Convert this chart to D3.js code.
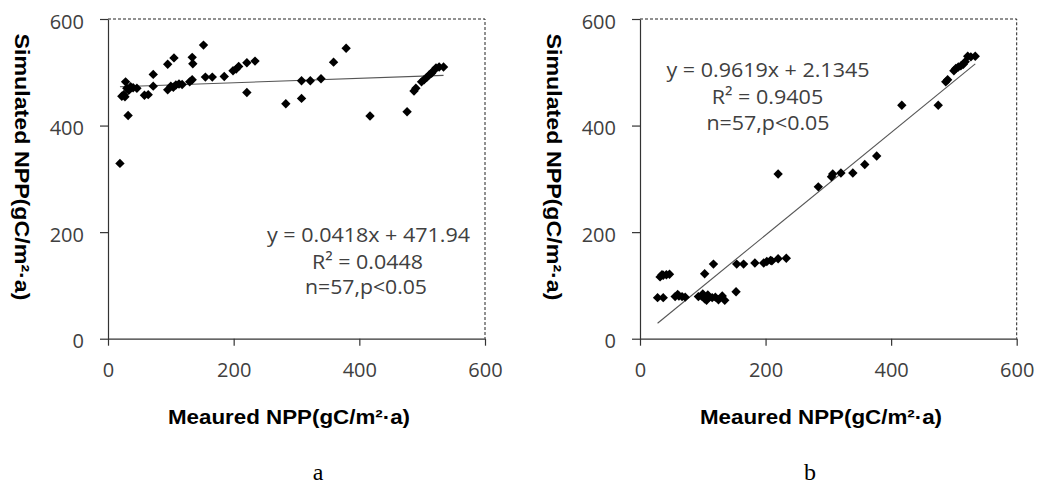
<!DOCTYPE html>
<html><head><meta charset="utf-8">
<script src="https://cdnjs.cloudflare.com/ajax/libs/d3/7.8.5/d3.min.js"></script>
<style>
html,body{margin:0;padding:0;background:#fff;}
svg{display:block;}
</style></head>
<body>
<svg id="chart" width="1038" height="486"></svg>
<script>
// ---- data ----
const xTicks = [0, 200, 400, 600];
const yTicks = [0, 200, 400, 600];

const measuredA = [19, 32, 22, 25, 27, 28, 30, 33, 36, 40, 46, 58, 64, 72, 72, 95, 105, 95, 100, 104, 108, 113, 118, 134, 135, 134, 152, 155, 166, 185, 199, 204, 208, 221, 234, 221, 283, 308, 308, 322, 339, 359, 379, 417, 476, 487, 490, 499, 503, 507, 511, 515, 518, 522, 527, 534, 130];
const simulatedA = [329, 419, 455, 458, 454, 482, 470, 466, 473, 471, 470, 457, 458, 496, 474, 515, 527, 467, 474, 472, 476, 478, 477, 528, 516, 486, 551, 491, 491, 492, 503, 506, 511, 518, 521, 462, 441, 484, 451, 484, 488, 519, 545, 418, 426, 465, 470, 482, 486, 490, 495, 498, 503, 508, 510, 510, 482];

const measuredB = [28, 37, 56, 62, 67, 72, 93, 98, 103, 106, 110, 115, 120, 131, 135, 153, 32, 37, 42, 47, 103, 117, 154, 165, 183, 197, 202, 208, 220, 233, 220, 284, 305, 307, 320, 339, 358, 377, 417, 475, 487, 490, 500, 503, 507, 511, 515, 518, 522, 527, 534, 100, 125, 60, 108, 35, 210];
const simulatedB = [77, 77, 79, 80, 79, 78, 79, 80, 75, 72, 78, 77, 78, 80, 72, 88, 116, 119, 120, 121, 122, 140, 140, 140, 142, 142, 145, 147, 150, 151, 309, 285, 304, 309, 311, 311, 327, 343, 438, 438, 482, 486, 503, 507, 510, 512, 515, 520, 530, 529, 530, 84, 73, 83, 82, 120, 146];

const fitA = { slope: 0.0418, intercept: 471.94 };
const fitB = { slope: 0.9619, intercept: 2.1345 };
const eqTextA = ["y = 0.0418x + 471.94", "R² = 0.0448", "n=57,p<0.05"];
const eqTextB = ["y = 0.9619x + 2.1345", "R² = 0.9405", "n=57,p<0.05"];
const xTitle = "Meaured NPP(gC/m²·a)";
const yTitle = "Simulated NPP(gC/m²·a)";
const panelLetters = ["a", "b"];

// ---- drawing ----
const svg = d3.select("#chart");
const tickFont = "'Open Sans', 'DejaVu Sans', sans-serif";

const panels = [
  { xs: measuredA, ys: simulatedA, fit: fitA, eq: eqTextA, letter: panelLetters[0],
    x0: 108, x1: 485, y0: 338.7, y1: 19,
    eqCx: [368.5, 367.5, 366], eqW: [203, 111, 122], eqY: [242, 269, 294],
    yTitleX: 22, xTitleX: 289, letterX: 318 },
  { xs: measuredB, ys: simulatedB, fit: fitB, eq: eqTextB, letter: panelLetters[1],
    x0: 640, x1: 1016.7, y0: 338.7, y1: 19,
    eqCx: [768, 767.5, 768], eqW: [203, 111.5, 123], eqY: [76.5, 104, 130],
    yTitleX: 554, xTitleX: 821, letterX: 810 }
];

panels.forEach(p => {
  const x = d3.scaleLinear().domain([0, 600]).range([p.x0, p.x1]);
  const y = d3.scaleLinear().domain([0, 600]).range([p.y0, p.y1]);
  const g = svg.append("g");

  // dashed frame (top & right)
  g.append("path")
    .attr("d", `M${x(0)},${y(600)}H${x(600)}V${y(0)}`)
    .attr("fill", "none").attr("stroke", "#222").attr("stroke-width", 1)
    .attr("stroke-dasharray", "3,2");

  // axes
  const ax = g.append("g").attr("transform", `translate(0,${y(0)})`)
    .call(d3.axisBottom(x).tickValues(xTicks).tickSize(7).tickSizeOuter(0).tickPadding(14));
  const ay = g.append("g").attr("transform", `translate(${x(0)},0)`)
    .call(d3.axisLeft(y).tickValues(yTicks).tickSize(8).tickSizeOuter(0).tickPadding(16));
  [ax, ay].forEach(a => {
    a.select(".domain").attr("stroke", "#333").attr("stroke-width", 1.2);
    a.selectAll(".tick line").attr("stroke", "#333").attr("stroke-width", 1.2);
    a.selectAll(".tick text").attr("fill", "#404040")
      .style("font-family", tickFont).style("font-size", "20px");
  });
  ax.selectAll(".tick text").attr("dy", "0.85em");
  ay.selectAll(".tick text").attr("dy", "0.45em");

  // fit line
  const xmin = d3.min(p.xs), xmax = d3.max(p.xs);
  g.append("line")
    .attr("x1", x(xmin)).attr("y1", y(p.fit.slope * xmin + p.fit.intercept))
    .attr("x2", x(xmax)).attr("y2", y(p.fit.slope * xmax + p.fit.intercept))
    .attr("stroke", "#555").attr("stroke-width", 1.1);

  // points (diamonds)
  const r = 4.7;
  g.selectAll("path.pt").data(p.xs.map((v, i) => [v, p.ys[i]])).join("path")
    .attr("class", "pt")
    .attr("d", d => `M${x(d[0])},${y(d[1]) - r}L${x(d[0]) + r},${y(d[1])}L${x(d[0])},${y(d[1]) + r}L${x(d[0]) - r},${y(d[1])}Z`)
    .attr("fill", "#000");

  // equation text
  p.eq.forEach((t, i) => {
    g.append("text").attr("x", p.eqCx[i]).attr("y", p.eqY[i])
      .attr("text-anchor", "middle")
      .attr("textLength", p.eqW[i]).attr("lengthAdjust", "spacingAndGlyphs")
      .style("font-family", tickFont).style("font-size", "20px").attr("fill", "#404040")
      .text(t);
  });

  // axis titles
  g.append("text").attr("x", p.xTitleX).attr("y", 424)
    .attr("text-anchor", "middle")
    .attr("textLength", 242).attr("lengthAdjust", "spacingAndGlyphs")
    .style("font-family", "'Liberation Sans', Arial, sans-serif").style("font-weight", "bold")
    .style("font-size", "20px").attr("fill", "#000")
    .text(xTitle);
  g.append("text")
    .attr("transform", `translate(${p.yTitleX},167) rotate(90)`)
    .attr("text-anchor", "middle").attr("dy", "0.35em")
    .attr("textLength", 267).attr("lengthAdjust", "spacingAndGlyphs")
    .style("font-family", "'Liberation Sans', Arial, sans-serif").style("font-weight", "bold")
    .style("font-size", "21px").attr("fill", "#000")
    .text(yTitle);

  // panel letter
  g.append("text").attr("x", p.letterX).attr("y", 480)
    .attr("text-anchor", "middle")
    .style("font-family", "'Liberation Serif', 'Times New Roman', serif")
    .style("font-size", "24px").attr("fill", "#000")
    .text(p.letter);
});
</script>
</body></html>
